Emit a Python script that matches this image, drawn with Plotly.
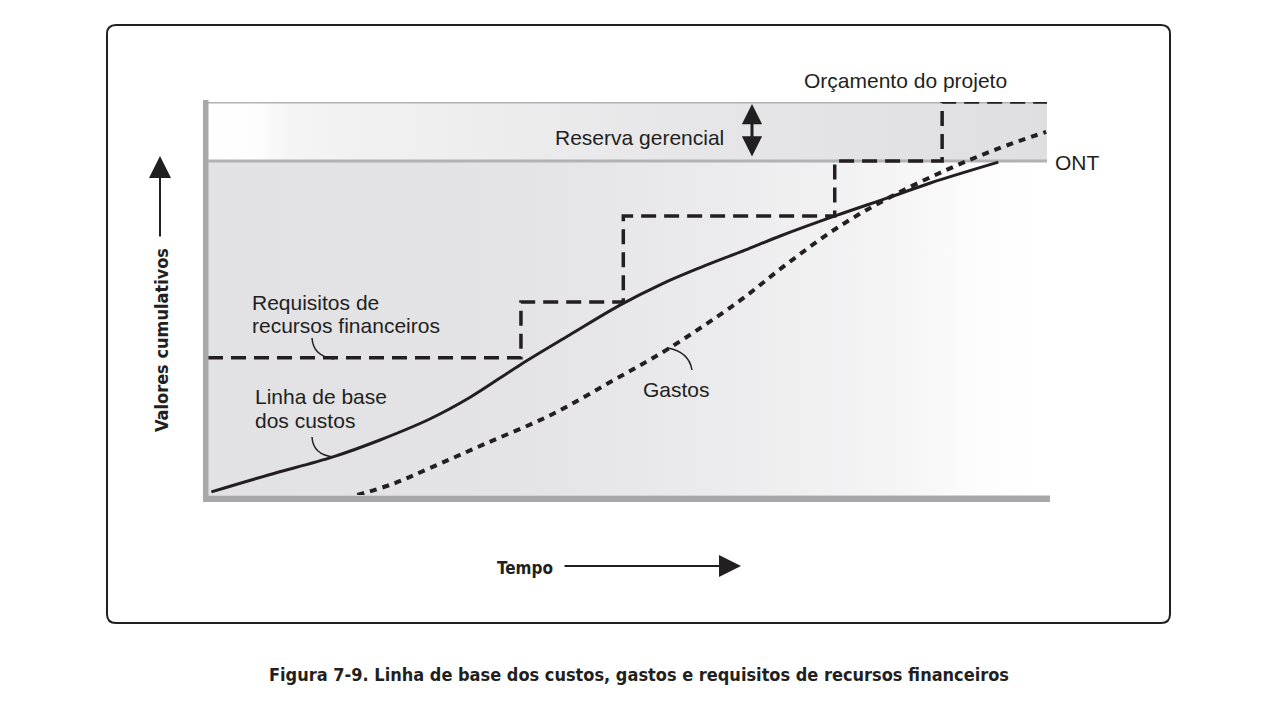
import plotly.graph_objects as go

W, H = 1280, 720

# ---------------- data ----------------
ont = 85.0          # ONT (orçamento no término)
budget = 100.0      # Orçamento do projeto

baseline_x = [0.4, 7.2, 14.9, 20.5, 26.5, 31.2, 37.2, 43.1, 49.1, 54.0, 58.6, 64.0, 68.2, 75.0, 81.3, 86.1, 94.2]
baseline_y = [0.8, 5.1, 9.7, 14.0, 19.4, 24.8, 33.1, 40.7, 48.3, 53.6, 57.8, 62.3, 65.9, 71.2, 75.8, 79.4, 84.7]

gastos_x = [17.8, 22.0, 26.5, 33.0, 40.8, 48.0, 54.7, 63.1, 69.0, 75.0, 81.3, 88.1, 94.0, 99.9]
gastos_y = [0.0, 2.8, 6.9, 13.0, 20.3, 28.8, 37.0, 49.0, 58.8, 68.0, 75.8, 82.8, 88.0, 92.4]

req_x = [0.0, 37.3, 49.5, 74.7, 87.5, 100.0]
req_y = [34.9, 49.1, 71.0, 85.0, 100.0, 100.0]

x_range = [0, 100]
y_range = [0, 100]

INK = "#231f20"
BODY_FONT = "Liberation Sans, Arial, sans-serif"
BOLD_FONT = "Liberation Sans Narrow, Arial Narrow, DejaVu Sans Condensed, sans-serif"


def px(x):
    return x / W


def py(y):
    return 1 - y / H


fig = go.Figure()

# lower area fill (gray at left fading to white at right)
fig.add_trace(go.Scatter(
    x=[x_range[0], x_range[1], x_range[1], x_range[0], x_range[0]],
    y=[0, 0, ont, ont, 0],
    fill="toself", mode="none", hoverinfo="skip", showlegend=False,
    fillgradient=dict(type="horizontal", colorscale=[
        [0.0, "#e2e2e4"], [0.38, "#e4e4e6"], [0.6, "#ebebed"],
        [0.8, "#f4f4f5"], [0.93, "#fdfdfd"], [1.0, "#ffffff"]]),
))
# management reserve band (white at left, gray at right)
fig.add_trace(go.Scatter(
    x=[x_range[0], x_range[1], x_range[1], x_range[0], x_range[0]],
    y=[ont, ont, budget, budget, ont],
    fill="toself", mode="none", hoverinfo="skip", showlegend=False,
    fillgradient=dict(type="horizontal", colorscale=[
        [0.0, "#ffffff"], [0.06, "#fdfdfd"], [0.1, "#f4f4f4"],
        [0.3, "#eeeeef"], [0.55, "#e7e7e9"], [1.0, "#dfdfe1"]]),
))
# ONT and budget lines
for lvl in (ont, budget):
    fig.add_trace(go.Scatter(
        x=x_range, y=[lvl, lvl], mode="lines", hoverinfo="skip", showlegend=False,
        line=dict(color="#b2b2b5", width=3),
    ))

# Requisitos de recursos financeiros (step, dashed)
fig.add_trace(go.Scatter(
    x=req_x, y=req_y, mode="lines", line_shape="hv", showlegend=False,
    line=dict(color=INK, width=3.5, dash="15px,8px"),
))
# Linha de base dos custos (solid)
fig.add_trace(go.Scatter(
    x=baseline_x, y=baseline_y, mode="lines", line_shape="spline", showlegend=False,
    line=dict(color=INK, width=3, smoothing=1),
))
# Gastos (dotted)
fig.add_trace(go.Scatter(
    x=gastos_x, y=gastos_y, mode="lines", line_shape="spline", showlegend=False,
    line=dict(color=INK, width=4, dash="7px,6px", smoothing=1),
))

shapes = []
# outer rounded frame
x0, y0, x1, y1, r = 107, 25, 1170, 623, 9
path = (f"M {px(x0 + r)},{py(y0)} L {px(x1 - r)},{py(y0)} Q {px(x1)},{py(y0)} {px(x1)},{py(y0 + r)} "
        f"L {px(x1)},{py(y1 - r)} Q {px(x1)},{py(y1)} {px(x1 - r)},{py(y1)} "
        f"L {px(x0 + r)},{py(y1)} Q {px(x0)},{py(y1)} {px(x0)},{py(y1 - r)} "
        f"L {px(x0)},{py(y0 + r)} Q {px(x0)},{py(y0)} {px(x0 + r)},{py(y0)} Z")
shapes.append(dict(type="path", xref="paper", yref="paper", path=path,
                   line=dict(color=INK, width=2)))
# axes bars
shapes.append(dict(type="rect", xref="paper", yref="paper",
                   x0=px(203), x1=px(208.5), y0=py(502), y1=py(100),
                   fillcolor="#a8a8ab", line=dict(width=0), layer="above"))
shapes.append(dict(type="rect", xref="paper", yref="paper",
                   x0=px(203), x1=px(1050), y0=py(502), y1=py(495.5),
                   fillcolor="#a8a8ab", line=dict(width=0), layer="above"))


def leader(a, c, b):
    return dict(type="path", xref="paper", yref="paper",
                path=f"M {px(a[0])},{py(a[1])} Q {px(c[0])},{py(c[1])} {px(b[0])},{py(b[1])}",
                line=dict(color=INK, width=1.5))


shapes.append(leader((312, 338), (313, 356), (334, 359)))
shapes.append(leader((312, 437), (313, 455), (334, 457)))
shapes.append(leader((668, 348), (689, 352), (692, 370)))

annotations = []


def txt(text, x, y, size=21, xanchor="left", font=BODY_FONT, bold=False, angle=0):
    t = f"<b>{text}</b>" if bold else text
    annotations.append(dict(text=t, x=px(x), y=py(y), xref="paper", yref="paper",
                            xanchor=xanchor, yanchor="middle", showarrow=False,
                            textangle=angle,
                            font=dict(family=font, size=size, color=INK)))


txt("Orçamento do projeto", 905, 80, xanchor="center")
txt("Reserva gerencial", 726, 137, xanchor="right")
txt("ONT", 1053, 163)
txt("Requisitos de", 250, 302)
txt("recursos financeiros", 250, 326)
txt("Linha de base", 253, 396)
txt("dos custos", 253, 420)
txt("Gastos", 676, 389, xanchor="center")
txt("Tempo", 495, 568, size=17, font=BOLD_FONT, bold=True)
txt("Valores cumulativos", 161, 340, size=18, xanchor="center", font=BOLD_FONT, bold=True, angle=-90)
txt("Figura 7-9. Linha de base dos custos, gastos e requisitos de recursos financeiros",
    639, 674, size=18, xanchor="center", font=BOLD_FONT, bold=True)

# arrows
annotations.append(dict(x=px(741), y=py(566), ax=-178, ay=0, xref="paper", yref="paper",
                        text="", showarrow=True, arrowhead=2, arrowwidth=2, arrowsize=2.2,
                        arrowcolor=INK))
annotations.append(dict(x=px(160), y=py(156), ax=0, ay=82, xref="paper", yref="paper",
                        text="", showarrow=True, arrowhead=2, arrowwidth=2, arrowsize=2.2,
                        arrowcolor=INK))
annotations.append(dict(x=px(752), y=py(104), ax=0, ay=54, xref="paper", yref="paper",
                        text="", showarrow=True, arrowside="end+start",
                        arrowhead=2, startarrowhead=2, arrowwidth=3,
                        arrowsize=1.35, startarrowsize=1.35, arrowcolor=INK))

fig.update_layout(
    width=W, height=H,
    margin=dict(l=0, r=0, t=0, b=0),
    paper_bgcolor="white", plot_bgcolor="rgba(0,0,0,0)",
    xaxis=dict(range=x_range, domain=[px(208), px(1047)], visible=False, fixedrange=True),
    yaxis=dict(range=y_range, domain=[py(495), py(102)], visible=False, fixedrange=True),
    shapes=shapes, annotations=annotations, showlegend=False,
)

fig.write_html("out.html", config={"displayModeBar": False})
